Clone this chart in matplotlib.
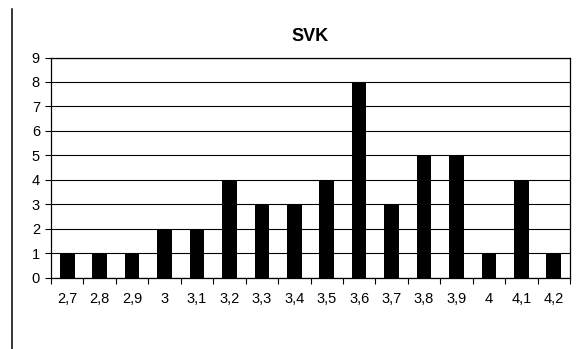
import matplotlib
matplotlib.use("Agg")
import matplotlib.pyplot as plt
from matplotlib.lines import Line2D
import numpy as np

plt.rcParams['font.family'] = ['Liberation Sans', 'DejaVu Sans']

categories = ["2,7", "2,8", "2,9", "3", "3,1", "3,2", "3,3", "3,4",
              "3,5", "3,6", "3,7", "3,8", "3,9", "4", "4,1", "4,2"]
counts = [1, 1, 1, 2, 2, 4, 3, 3, 4, 8, 3, 5, 5, 1, 4, 1]

fig = plt.figure(figsize=(5.76, 3.49), dpi=100)
ax = fig.add_axes([51 / 576, 1 - 277.7 / 349, 519 / 576, 220.2 / 349])

x = np.arange(len(categories))
ax.set_axisbelow(True)
ax.yaxis.grid(True, color='black', linewidth=0.8)
ax.bar(x, counts, width=0.45, color='black', zorder=3)

ax.set_xlim(-0.5, len(categories) - 0.5)
ax.set_ylim(0, 9)
ax.set_yticks(range(0, 10))
ax.set_xticks(x)
ax.set_xticklabels(categories)
ax.set_xticks(np.arange(-0.5, len(categories)), minor=True)
ax.tick_params(axis='x', which='major', length=0, pad=10, labelsize=10.5)
ax.tick_params(axis='x', which='minor', length=4, width=0.8, direction='out')
ax.tick_params(axis='y', length=4, width=0.8, pad=4, labelsize=10.5)

for side in ax.spines.values():
    side.set_linewidth(0.9)
    side.set_color('black')

ax.set_title("SVK", fontsize=13, fontweight='bold', pad=12)

# thin rule down the left edge of the page
fig.add_artist(Line2D([12 / 576, 12 / 576], [1 - 9 / 349, 0.0],
                      transform=fig.transFigure, color='black', linewidth=1.1))

fig.savefig("out.png", dpi=100)
